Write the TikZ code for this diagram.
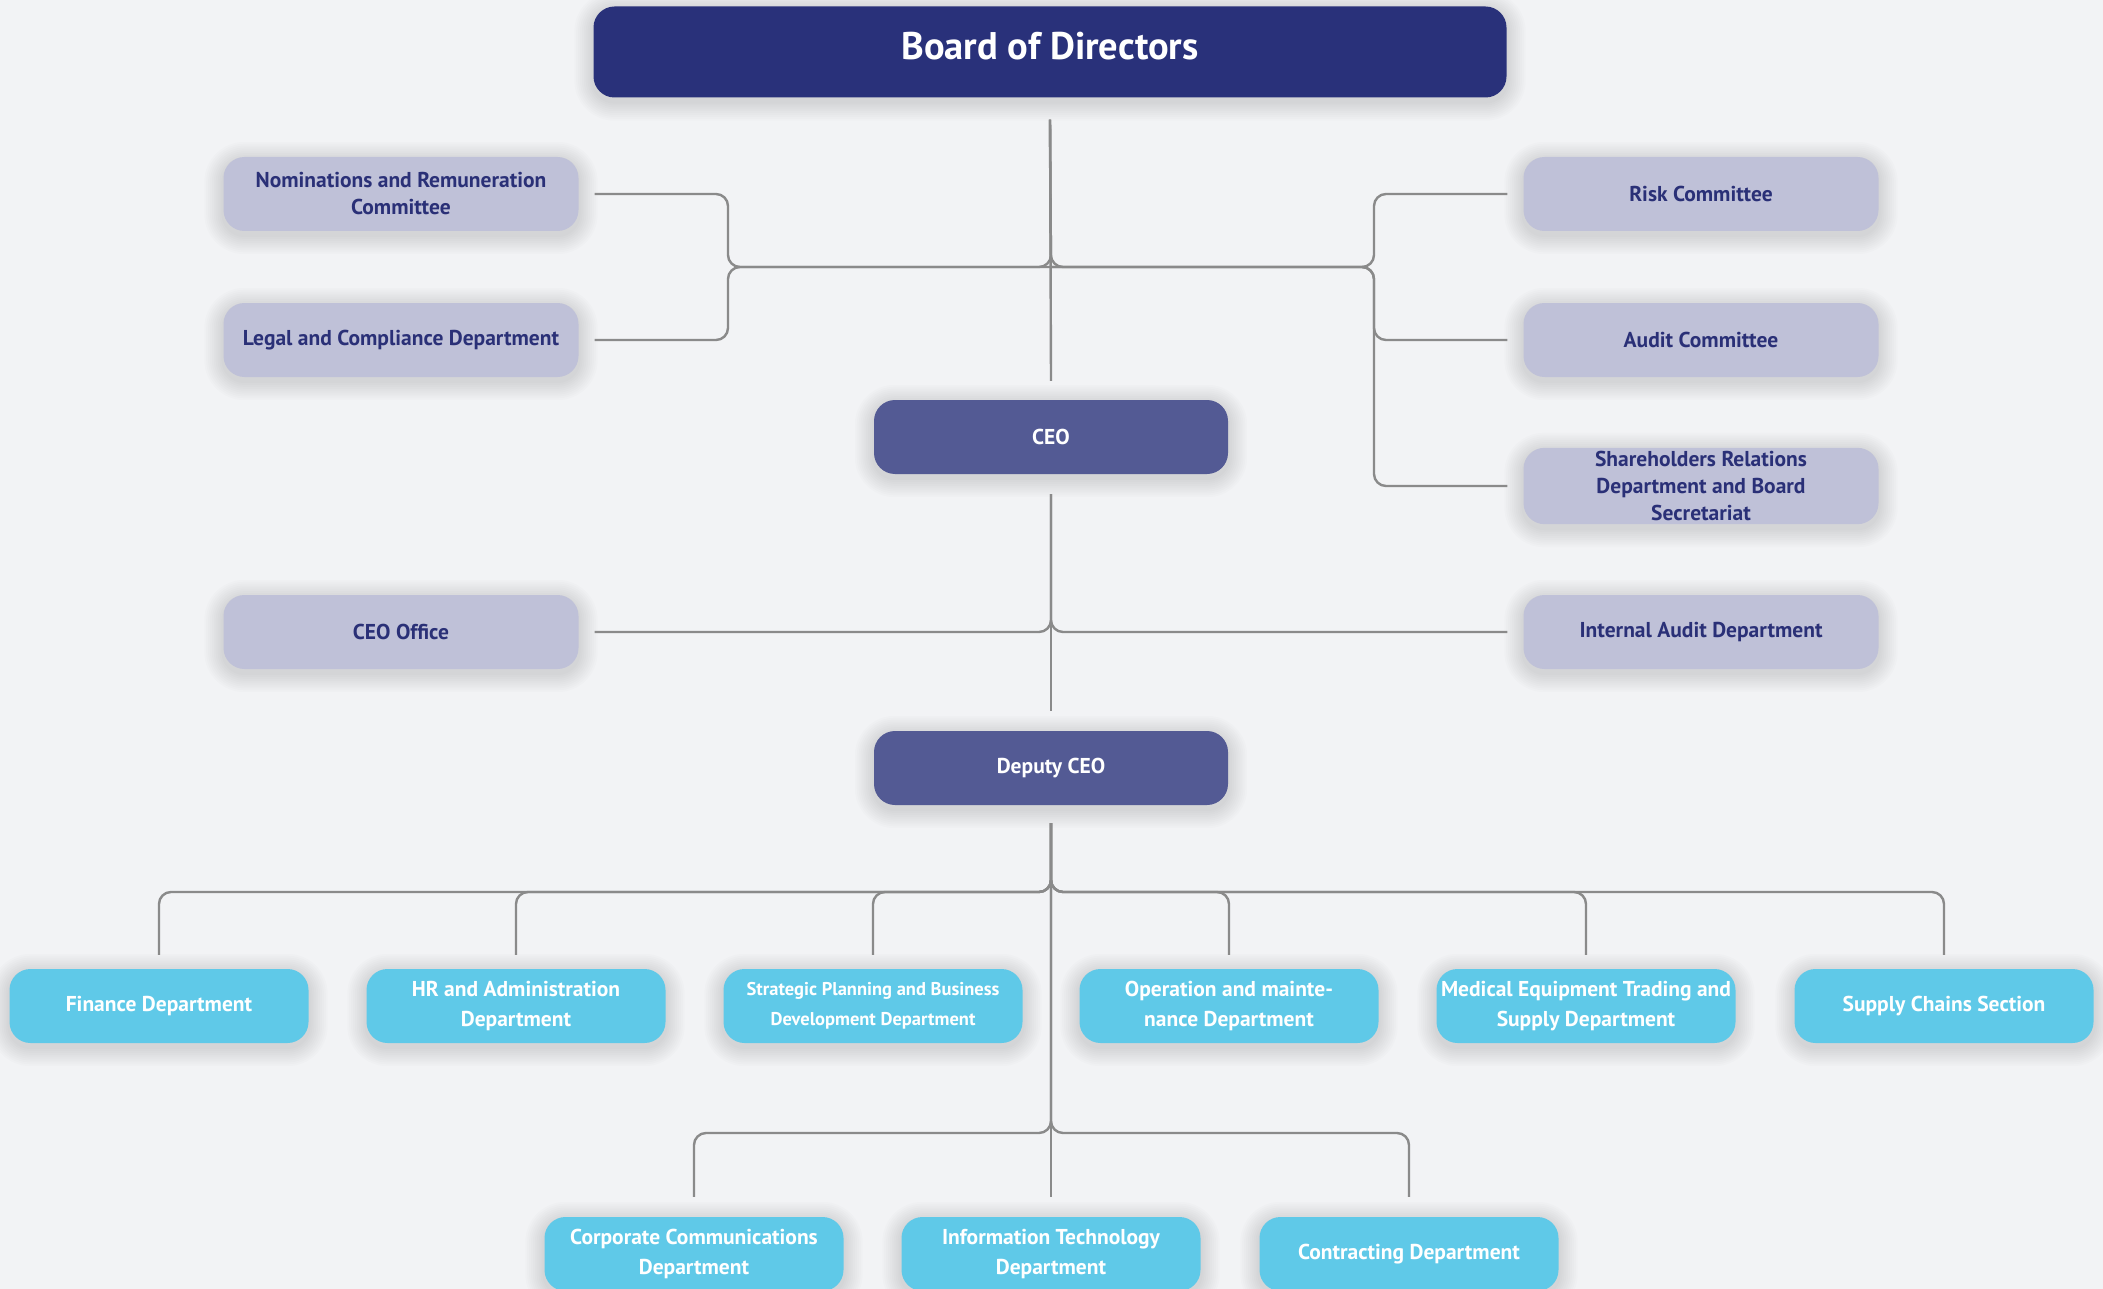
\documentclass[tikz,border=0pt]{standalone}
\usepackage{fontspec}
\setmainfont{PT Sans}
\usetikzlibrary{positioning,backgrounds}
\definecolor{pagebg}{HTML}{F2F3F5}
\definecolor{boardblue}{HTML}{29317A}
\definecolor{execblue}{HTML}{535A94}
\definecolor{lavender}{HTML}{BFC1D8}
\definecolor{navytext}{HTML}{2A3077}
\definecolor{deptcyan}{HTML}{5FC9E8}
\definecolor{linkgray}{HTML}{8A8A8A}

% soft shadow: stacked faint rounded rectangles round a node
\newcommand\boxshadow[1]{%
  \foreach \s in {1,...,10} {
    \pgfmathsetmacro\grow{\s*1.9}
    \pgfmathsetmacro\rad{21+\s*1.9}
    \fill[black, opacity=0.012, rounded corners=\rad pt]
      ([xshift=-\grow pt, yshift=\grow pt-4pt]#1.north west) rectangle
      ([xshift=\grow pt, yshift=-\grow pt-4pt]#1.south east);
  }%
}

\tikzset{
  box/.style={rounded corners=21pt, minimum height=74pt, align=center, inner xsep=2pt,
    font=\bfseries\fontsize{21.5}{27}\selectfont},
  board/.style={box, fill=boardblue, text=white, minimum width=913pt, minimum height=91pt,
    text depth=12pt, font=\bfseries\fontsize{38.5}{42}\selectfont},
  exec/.style={box, fill=execblue, text=white, minimum width=354pt},
  cmte/.style={box, fill=lavender, text=navytext, minimum width=355pt},
  dept/.style={box, fill=deptcyan, text=white, minimum width=299pt,
    font=\bfseries\fontsize{21.5}{30}\selectfont},
  link/.style={draw=linkgray, line width=2.4pt, rounded corners=12pt},
}

\begin{document}
\begin{tikzpicture}[x=1pt, y=-1pt]
  \useasboundingbox (0,0) rectangle (2103,1289);

  % board and executives
  \node[board] (bod) at (1050,52) {Board of Directors};
  \node[exec] (ceo) at (1051,437) {CEO};
  \node[exec] (deputy) at (1051,768) {Deputy CEO};

  % committees round the board
  \node[cmte] (nom) at (401,194) {Nominations and Remuneration\\Committee};
  \node[cmte] (legal) at (401,340) {Legal and Compliance Department};
  \node[cmte] (risk) at (1701,194) {Risk Committee};
  \node[cmte] (audit) at (1701,340) {Audit Committee};
  \node[cmte] (share) at (1701,486) {Shareholders Relations\\Department and Board\\Secretariat};

  % units under the CEO
  \node[cmte] (office) at (401,632) {CEO Office};
  \node[cmte] (intaudit) at (1701,632) {Internal Audit Department};

  % departments under the deputy
  \node[dept] (fin) at (159,1006) {Finance Department};
  \node[dept] (hr) at (516,1006) {HR and Administration\\Department};
  \node[dept, font=\bfseries\fontsize{18.5}{30}\selectfont] (strat) at (873,1006) {Strategic Planning and Business\\Development Department};
  \node[dept] (ops) at (1229,1006) {Operation and mainte-\\nance Department};
  \node[dept] (med) at (1586,1006) {Medical Equipment Trading and\\Supply Department};
  \node[dept] (supply) at (1944,1006) {Supply Chains Section};
  \node[dept] (comms) at (694,1254) {Corporate Communications\\Department};
  \node[dept] (it) at (1051,1254) {Information Technology\\Department};
  \node[dept] (contract) at (1409,1254) {Contracting Department};

  % junction points
  \coordinate (topj) at (1051,267);
  \coordinate (lbus) at (728,267);
  \coordinate (rbus) at (1374,267);
  \coordinate (midj) at (ceo |- office.east);
  \coordinate (b1) at (1051,892);
  \coordinate (b2) at (1051,1133);

  % board level
  \draw[link] ([yshift=-22pt]bod.south) -- ([yshift=19pt]ceo.north);
  \draw[link] ([yshift=-22pt]bod.south) -- (topj) -- (lbus) |- ([xshift=16pt]nom.east);
  \draw[link] (topj) -- (lbus) |- ([xshift=16pt]legal.east);
  \draw[link] ([yshift=-22pt]bod.south) -- (topj) -- (rbus) |- ([xshift=-16pt]risk.west);
  \foreach \c in {audit,share}
    \draw[link] (topj) -- (rbus) |- ([xshift=-16pt]\c.west);

  % CEO level
  \draw[link] ([yshift=-20pt]ceo.south) -- ([yshift=20pt]deputy.north);
  \draw[link] ([yshift=-20pt]ceo.south) -- (midj) -- ([xshift=16pt]office.east);
  \draw[link] ([yshift=-20pt]ceo.south) -- (midj) -- ([xshift=-16pt]intaudit.west);

  % deputy level
  \draw[link] ([yshift=-18pt]deputy.south) -- ([yshift=20pt]it.north);
  \foreach \d in {fin,hr,strat,ops,med,supply}
    \draw[link] ([yshift=-18pt]deputy.south) -- (b1) -| ([yshift=14pt]\d.north);
  \foreach \d in {comms,contract}
    \draw[link] ([yshift=-18pt]deputy.south) -- (b2) -| ([yshift=20pt]\d.north);

  % page and shadows behind everything
  \begin{scope}[on background layer]
    \fill[pagebg] (0,0) rectangle (2103,1289);
    \foreach \n in {bod,ceo,deputy,nom,legal,risk,audit,share,office,intaudit,
                    fin,hr,strat,ops,med,supply,comms,it,contract}
      \boxshadow{\n};
  \end{scope}
\end{tikzpicture}
\end{document}
